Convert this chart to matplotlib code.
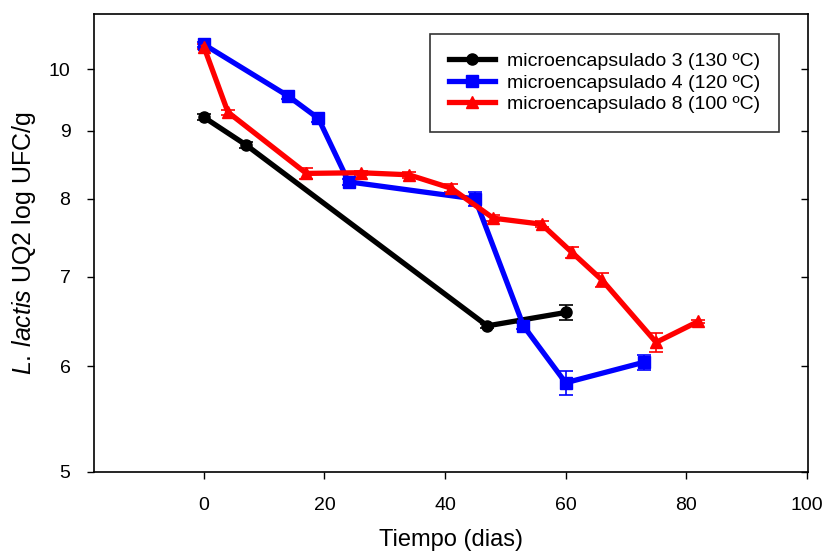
import numpy as np
import matplotlib
matplotlib.use('Agg')
from matplotlib import pyplot as plt
from matplotlib import ticker
from matplotlib.lines import Line2D

plt.rcParams['font.family'] = ['Liberation Sans', 'DejaVu Sans']
plt.rcParams['mathtext.fontset'] = 'custom'
plt.rcParams['mathtext.rm'] = 'Liberation Sans'
plt.rcParams['mathtext.it'] = 'Liberation Sans:italic'

# microencapsulado 3 (130 ºC)
dias_3 = [0, 7, 47, 60]
log_3 = [9.21, 8.78, 6.43, 6.58]
err_3 = [0.05, 0.05, 0.02, 0.08]

# microencapsulado 4 (120 ºC)
dias_4 = [0, 14, 19, 24, 45, 53, 60, 73]
log_4 = [10.44, 9.55, 9.19, 8.24, 8.00, 6.43, 5.83, 6.04]
err_4 = [0.05, 0.05, 0.05, 0.04, 0.10, 0.03, 0.12, 0.08]

# microencapsulado 8 (100 ºC)
dias_8 = [0, 4, 17, 26, 34, 41, 48, 56, 61, 66, 75, 82]
log_8 = [10.40, 9.29, 8.36, 8.37, 8.34, 8.15, 7.74, 7.66, 7.30, 6.96, 6.25, 6.48]
err_8 = [0.04, 0.04, 0.08, 0.03, 0.04, 0.06, 0.04, 0.04, 0.07, 0.08, 0.10, 0.02]

series = [
    (dias_3, log_3, err_3, 'black', 'o', 'microencapsulado 3 (130 ºC)'),
    (dias_4, log_4, err_4, 'blue', 's', 'microencapsulado 4 (120 ºC)'),
    (dias_8, log_8, err_8, 'red', '^', 'microencapsulado 8 (100 ºC)'),
]

fig = plt.figure(figsize=(8.27, 5.52), dpi=100)
ax = fig.add_axes([0.1137, 0.145, 0.8635, 0.8296])

handles = []
for x, y, e, color, marker, label in series:
    ax.errorbar(x, y, yerr=e, color=color, marker=marker, markersize=8,
                linewidth=3.8, elinewidth=1.2, capsize=5, capthick=1.2)
    handles.append(Line2D([], [], color=color, marker=marker, markersize=8,
                          linewidth=3.8, label=label))

ax.set_yscale('log')
ax.set_ylim(5, 11)
ax.set_xlim(-18.2, 100.2)
ax.set_yticks([5, 6, 7, 8, 9, 10])
ax.yaxis.set_major_formatter(ticker.FormatStrFormatter('%d'))
ax.yaxis.set_minor_locator(ticker.NullLocator())
ax.set_xticks([0, 20, 40, 60, 80, 100])

ax.tick_params(axis='both', labelsize=14, length=5, width=1, pad=6)
ax.tick_params(axis='x', direction='out', pad=13)
ax.tick_params(axis='y', direction='out', right=True, pad=12)
# right-side ticks point inward
for tick in ax.yaxis.get_major_ticks():
    tick.tick2line.set_marker(matplotlib.lines.TICKLEFT)
for sp in ax.spines.values():
    sp.set_linewidth(1.2)

ax.set_xlabel('Tiempo (dias)', fontsize=17, labelpad=11)
ax.set_ylabel(r'$\mathit{L.\,lactis}$ UQ2 log UFC/g', fontsize=18, labelpad=8)

leg = ax.legend(handles=handles, loc='upper right', bbox_to_anchor=(0.959, 0.956),
                borderaxespad=0, fontsize=14, frameon=True, fancybox=False,
                edgecolor='black', handlelength=2.4, borderpad=0.95,
                labelspacing=0.2, handletextpad=0.6)
leg.get_frame().set_linewidth(1.2)

plt.savefig('out.png', dpi=100)
plt.close()
